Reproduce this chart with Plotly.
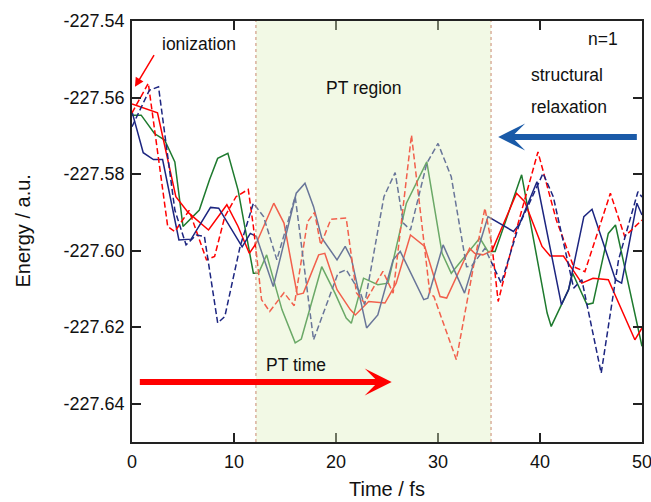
import plotly.graph_objects as go

# ---- data ----
red_solid_t = [0, 2.5, 4.3, 5.5, 7.5, 9.3, 10.4, 11.5, 12.2, 13.9, 14.9, 16.2, 16.8, 18.3, 18.9,
               20.1, 21.4, 21.9, 23.2, 24.8, 25.9, 27.3, 28.7, 30.2, 30.85, 33.1, 33.6, 34.4, 35.3,
               37.7, 38.5, 40.2, 41.0, 42.3, 44.1, 45.2, 46.7, 49.3, 50.0]
red_solid_e = [-227.5617, -227.5640, -227.5859, -227.5900, -227.5946, -227.5880, -227.5937, -227.6007,
               -227.5980, -227.5876, -227.5928, -227.6115, -227.6111, -227.6011, -227.6007,
               -227.6102, -227.6154, -227.6168, -227.6133, -227.6137, -227.6085, -227.5959, -227.5989,
               -227.6120, -227.6124, -227.5994, -227.6007, -227.6011, -227.6000,
               -227.5850, -227.5872, -227.5989, -227.6014, -227.6014, -227.6085, -227.6072, -227.6076,
               -227.6233, -227.6202]

red_dash_t = [0, 1.6, 3.5, 4.2, 5.6, 7.3, 8.1, 9.1, 10.2, 11.4, 11.9, 12.7, 13.5, 14.9, 15.9, 17.2,
              17.9, 18.5, 19.5, 21.0, 22.0, 22.8, 24.6, 25.6, 27.4, 29.2, 29.6, 31.8, 33.6, 34.6, 35.3,
              35.9, 37.5, 39.8, 41.6, 43.3, 44.4, 46.9, 48.3, 50.0]
red_dash_e = [-227.5640, -227.5563, -227.5937, -227.5950, -227.5895, -227.6024, -227.6015, -227.5911,
              -227.5859, -227.5840, -227.5937, -227.6128, -227.6159, -227.6110, -227.6144, -227.5925,
              -227.5900, -227.5985, -227.5918, -227.5915, -227.6110, -227.6137, -227.6054, -227.6111,
              -227.5698, -227.6111, -227.6120, -227.6285, -227.6024, -227.5889, -227.5989,
              -227.6133, -227.5963, -227.5742, -227.5920, -227.6042, -227.6055, -227.5850, -227.5963,
              -227.5920]

navy_solid_t = [0, 1.1, 2.1, 3.0, 4.6, 5.8, 7.7, 8.5, 10.8, 11.6, 12.2, 13.85, 16.1, 16.96, 17.8,
                18.6, 20.1, 20.9, 21.5, 23.0, 24.1, 25.6, 26.3, 28.6, 29.0, 30.5, 32.6, 34.9, 37.4,
                38.0, 39.7, 42.1, 42.8, 44.3, 45.1, 47.4, 48.0, 49.5, 50.0]
navy_solid_e = [-227.5637, -227.5744, -227.5762, -227.5762, -227.5972, -227.5970, -227.5887, -227.5889,
                -227.5990, -227.5955, -227.5963, -227.6094, -227.5850, -227.5824, -227.5885,
                -227.5967, -227.6024, -227.5989, -227.6020, -227.6202, -227.6168, -227.6024, -227.6002,
                -227.6128, -227.6124, -227.5985, -227.6111, -227.5911, -227.5950,
                -227.5930, -227.5820, -227.6141, -227.6102, -227.5911, -227.5892, -227.6076, -227.6085,
                -227.5876, -227.5907]

navy_dash_t = [0, 1.7, 2.6, 4.2, 5.3, 6.3, 7.1, 8.4, 9.1, 10.6, 11.9, 12.9, 14.2, 16.0, 17.8, 20.2,
               21.0, 22.4, 22.8, 24.7, 25.8, 26.6, 27.3, 28.9, 30.0, 31.3, 32.8, 33.3, 34.6, 36.2,
               37.9, 40.3, 41.3, 43.3, 44.1, 46.0, 47.7, 49.6, 50.0]
navy_dash_e = [-227.5676, -227.5581, -227.5572, -227.5894, -227.5985, -227.5959, -227.5963, -227.6189,
               -227.6172, -227.5989, -227.5876, -227.5911, -227.6024, -227.5859, -227.6233, -227.6059,
               -227.6050, -227.6111, -227.6141, -227.5859, -227.5796, -227.5928, -227.5946, -227.5772,
               -227.5720, -227.5807, -227.6042, -227.6040, -227.5994, -227.6085,
               -227.5937, -227.5798, -227.5859, -227.6098, -227.6076, -227.6320, -227.6024, -227.5846,
               -227.5860]

green_t = [0, 0.9, 2.2, 3.2, 4.2, 5.0, 6.6, 7.6, 8.4, 9.4, 10.4, 11.9, 12.4, 13.2, 14.7, 16.0, 16.6,
           18.6, 19.9, 21.0, 21.5, 22.7, 24.1, 25.1, 26.9, 28.9, 30.4, 31.3, 34.1, 34.9, 35.6, 38.2,
           40.7, 41.1, 42.8, 43.2, 44.6, 45.2, 46.7, 47.4, 50.0]
green_e = [-227.5646, -227.5646, -227.5694, -227.5711, -227.5768, -227.5937, -227.5894, -227.5815,
           -227.5759, -227.5746, -227.5842, -227.6059, -227.6059, -227.6011, -227.6154, -227.6241,
           -227.6231, -227.6042, -227.6111, -227.6176, -227.6190, -227.6072, -227.6089, -227.6085,
           -227.5876, -227.5768, -227.6007, -227.6059, -227.5967, -227.6002, -227.6002, -227.5802,
           -227.6163, -227.6198, -227.6102, -227.6059, -227.6141, -227.6137, -227.5955, -227.5933,
           -227.6250]

pt_region = [12.15, 35.2]
x_ticks = [0, 10, 20, 30, 40, 50]
y_ticks = [-227.64, -227.62, -227.60, -227.58, -227.56, -227.54]
y_tick_labels = ["-227.64", "-227.62", "-227.60", "-227.58", "-227.56", "-227.54"]

FONT = "Liberation Sans, Arial, sans-serif"
RED = "#FF0000"
NAVY = "#1C2580"
GREEN = "#1E7A2E"
BLUE = "#1A5AA8"

fig = go.Figure()
series = [
    (green_t, green_e, GREEN, "solid"),
    (red_solid_t, red_solid_e, RED, "solid"),
    (navy_solid_t, navy_solid_e, NAVY, "solid"),
    (red_dash_t, red_dash_e, RED, "6px,3px"),
    (navy_dash_t, navy_dash_e, NAVY, "6px,3px"),
]
for t, e, c, d in series:
    fig.add_trace(go.Scatter(x=t, y=e, mode="lines", line=dict(color=c, width=1.5, dash=d),
                             showlegend=False, hoverinfo="skip"))

# PT region overlay (semi-transparent, above traces)
fig.add_shape(type="rect", xref="x", yref="paper", x0=pt_region[0], x1=pt_region[1], y0=0, y1=1,
              fillcolor="rgb(222,240,190)", opacity=0.4, line=dict(width=0), layer="above")
for xv in pt_region:
    fig.add_shape(type="line", xref="x", yref="paper", x0=xv, x1=xv, y0=0, y1=1,
                  line=dict(color="#C98A70", width=1, dash="dot"), layer="above")

ann = []
txt = dict(family=FONT, size=17.5, color="#111111")
ann.append(dict(x=6.55, y=-227.5461, text="ionization", showarrow=False, font=txt))
ann.append(dict(x=22.78, y=-227.5576, text="PT region", showarrow=False, font=txt))
ann.append(dict(x=46.13, y=-227.5448, text="n=1", showarrow=False, font=txt))
ann.append(dict(x=38.95, y=-227.5542, text="structural", showarrow=False, font=txt, xanchor="left"))
ann.append(dict(x=38.95, y=-227.5624, text="relaxation", showarrow=False, font=txt, xanchor="left"))
ann.append(dict(x=16.08, y=-227.6298, text="PT time", showarrow=False, font=txt))
# arrows
ann.append(dict(x=0.29, y=-227.5572, ax=2.25, ay=-227.5485, axref="x", ayref="y", text="",
                showarrow=True, arrowhead=2, arrowsize=1.2, arrowwidth=1.5, arrowcolor=RED, standoff=0))
ann.append(dict(x=25.46, y=-227.6343, ax=0.62, ay=-227.6343, axref="x", ayref="y", text="",
                showarrow=True, arrowhead=3, arrowsize=0.75, arrowwidth=6, arrowcolor=RED, standoff=0))
ann.append(dict(x=35.9, y=-227.5703, ax=49.64, ay=-227.5703, axref="x", ayref="y", text="",
                showarrow=True, arrowhead=3, arrowsize=0.75, arrowwidth=6, arrowcolor=BLUE, standoff=0))
# axis titles
ann.append(dict(xref="paper", yref="paper", x=(22 - 132) / 510, y=0.5, text="Energy / a.u.",
                xanchor="center", yanchor="middle",
                textangle=-90, showarrow=False, font=dict(family=FONT, size=20, color="#111111")))
ann.append(dict(xref="paper", yref="paper", x=0.5, y=(442 - 489) / 421.3, text="Time / fs",
                xanchor="center", yanchor="middle",
                showarrow=False, font=dict(family=FONT, size=20, color="#111111")))

axis_common = dict(showline=True, linecolor="#222222", linewidth=1.5, mirror="ticks",
                   ticks="inside", ticklen=9, tickwidth=1.5, tickcolor="#222222",
                   showgrid=False, zeroline=False, automargin=False, ticklabeloverflow="allow",
                   tickfont=dict(family=FONT, size=18, color="#111111"))

fig.update_layout(
    width=651, height=502,
    margin=dict(l=132, r=9, t=21, b=60, autoexpand=False),
    paper_bgcolor="white", plot_bgcolor="white",
    font=dict(family=FONT),
    xaxis=dict(range=[0, 50], tickvals=x_ticks, ticklabelstandoff=3, **axis_common),
    yaxis=dict(range=[-227.65, -227.54], tickvals=y_ticks, ticktext=y_tick_labels,
               ticklabelstandoff=2, **axis_common),
    annotations=ann,
    showlegend=False,
)

fig.write_html("out.html", config={"displayModeBar": False},
               post_script="document.body.style.margin='0px';document.body.style.overflow='hidden';")
